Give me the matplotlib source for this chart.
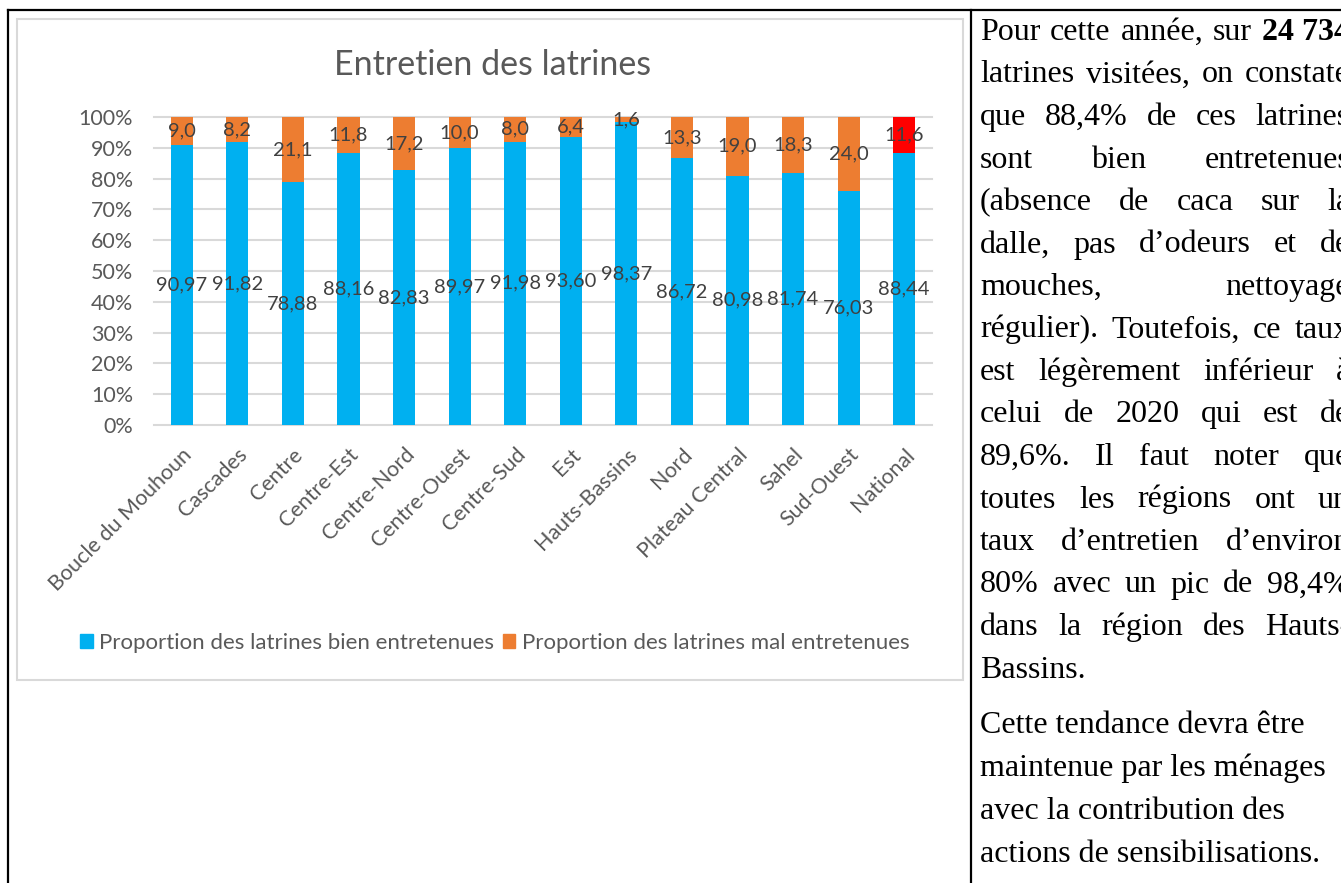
import matplotlib.pyplot as plt
from matplotlib.patches import Rectangle, Patch
from matplotlib.lines import Line2D

# Data
regions = ["Boucle du Mouhoun", "Cascades", "Centre", "Centre-Est", "Centre-Nord",
           "Centre-Ouest", "Centre-Sud", "Est", "Hauts-Bassins", "Nord",
           "Plateau Central", "Sahel", "Sud-Ouest", "National"]
bien = [90.97, 91.82, 78.88, 88.16, 82.83, 89.97, 91.98, 93.60, 98.37, 86.72,
        80.98, 81.74, 76.03, 88.44]
mal = [9.0, 8.2, 21.1, 11.8, 17.2, 10.0, 8.0, 6.4, 1.6, 13.3, 19.0, 18.3, 24.0, 11.6]
yticks = [0, 10, 20, 30, 40, 50, 60, 70, 80, 90, 100]
title = "Entretien des latrines"
legend_labels = ["Proportion des latrines bien entretenues",
                 "Proportion des latrines mal entretenues"]

# Text on the right (justified lines, then plain lines)
para1 = [
    "Pour cette année, sur **24 734**",
    "latrines visitées, on constate",
    "que 88,4% de ces latrines",
    "sont bien entretenues",
    "(absence de caca sur la",
    "dalle, pas d’odeurs et de",
    "mouches, nettoyage",
    "régulier). Toutefois, ce taux",
    "est légèrement inférieur à",
    "celui de 2020 qui est de",
    "89,6%. Il faut noter que",
    "toutes les régions ont un",
    "taux d’entretien d’environ",
    "80% avec un pic de 98,4%",
    "dans la région des Hauts-",
    "Bassins.",
]
para2 = [
    "Cette tendance devra être",
    "maintenue par les ménages",
    "avec la contribution des",
    "actions de sensibilisations.",
]

W, H = 1341, 883
BLUE = "#00B0F0"
ORANGE = "#ED7D31"
RED = "#FF0000"
GREY = "#595959"

plt.rcParams["font.family"] = ["Lato", "DejaVu Sans"]

fig = plt.figure(figsize=(W / 100, H / 100), dpi=100)

# frame lines of the document table
fig.add_artist(Line2D([8 / W, 1], [1 - 10 / H, 1 - 10 / H], color="black", lw=1.6))
fig.add_artist(Line2D([8 / W, 8 / W], [0, 1 - 10 / H], color="black", lw=1.6))
fig.add_artist(Line2D([971 / W, 971 / W], [0, 1 - 10 / H], color="black", lw=1.6))

# chart box
fig.add_artist(Rectangle((17 / W, 1 - 680 / H), (963 - 17) / W, (680 - 19) / H,
                         transform=fig.transFigure, fill=False, ec="#D9D9D9", lw=1.5))

ax = fig.add_axes([154 / W, 1 - 425 / H, (932 - 154) / W, (425 - 117) / H])

x = list(range(len(regions)))
tot = [b + m for b, m in zip(bien, mal)]
bien_n = [100 * b / t for b, t in zip(bien, tot)]
mal_n = [100 * m / t for m, t in zip(mal, tot)]
mal_colors = [ORANGE] * (len(regions) - 1) + [RED]

ax.bar(x, bien_n, width=0.4, color=BLUE, zorder=3)
ax.bar(x, mal_n, width=0.4, bottom=bien_n, color=mal_colors, zorder=3)

# data labels
for i in x:
    ax.text(i, bien_n[i] / 2, f"{bien[i]:.2f}".replace(".", ","), ha="center",
            va="center", fontsize=14.5, color="#404040", zorder=4)
    ax.text(i, bien_n[i] + mal_n[i] / 2, f"{mal[i]:.1f}".replace(".", ","),
            ha="center", va="center", fontsize=14.5, color="#404040", zorder=4)

ax.set_xlim(-0.5, len(regions) - 0.5)
ax.set_ylim(0, 100)
ax.set_yticks(yticks)
ax.set_yticklabels([f"{t}%" for t in yticks], fontsize=15.5, color=GREY)
ax.set_xticks(x)
ax.set_xticklabels(regions, rotation=45, ha="right", rotation_mode="anchor",
                   fontsize=15.5, color=GREY)
ax.tick_params(length=0)
ax.tick_params(axis="x", pad=14)
ax.tick_params(axis="y", pad=15)
for s in ax.spines.values():
    s.set_visible(False)
ax.yaxis.grid(True, color="#D9D9D9", lw=1.5, zorder=0)
for gl in ax.get_ygridlines():
    gl.set_clip_on(False)

fig.text(493 / W, 1 - 65 / H, title, ha="center", va="center", fontsize=24.5, color=GREY)

handles = [Patch(color=BLUE), Patch(color=ORANGE)]
fig.legend(handles, legend_labels, loc="center", bbox_to_anchor=(495 / W, 1 - 643 / H),
           ncol=2, frameon=False, fontsize=16, labelcolor=GREY, handlelength=0.55,
           handleheight=0.6, handletextpad=0.3, columnspacing=0.4)

# right text column
serif = dict(family=["Liberation Serif", "DejaVu Serif"], fontsize=23, color="black")
fig.canvas.draw()
rend = fig.canvas.get_renderer()


def word_width(s, bold):
    t = fig.text(0, 0, s, fontweight="bold" if bold else "normal", **serif)
    w = t.get_window_extent(rend).width
    t.remove()
    return w


def split_words(line):
    # "**...**" marks a bold chunk
    out = []
    parts = line.split("**")
    for k, part in enumerate(parts):
        if not part.strip():
            continue
        if k % 2 == 1:
            out.append((part, True))
        else:
            out += [(w, False) for w in part.split()]
    return out


left, right = 980, 1350
for i, line in enumerate(para1):
    y = 1 - (40 + 42.5 * i) / H
    words = split_words(line)
    widths = [word_width(w, b) for w, b in words]
    if i < len(para1) - 1 and len(words) > 1:
        gap = (right - left - sum(widths)) / (len(words) - 1)
    else:
        gap = word_width("a b", False) - word_width("ab", False)
    xp = left
    for (w, b), ww in zip(words, widths):
        fig.text(xp / W, y, w, va="baseline", fontweight="bold" if b else "normal", **serif)
        xp += ww + gap

for i, line in enumerate(para2):
    y = 1 - (733 + 43 * i) / H
    fig.text(left / W, y, line, va="baseline", **serif)

fig.savefig("out.png", dpi=100)
